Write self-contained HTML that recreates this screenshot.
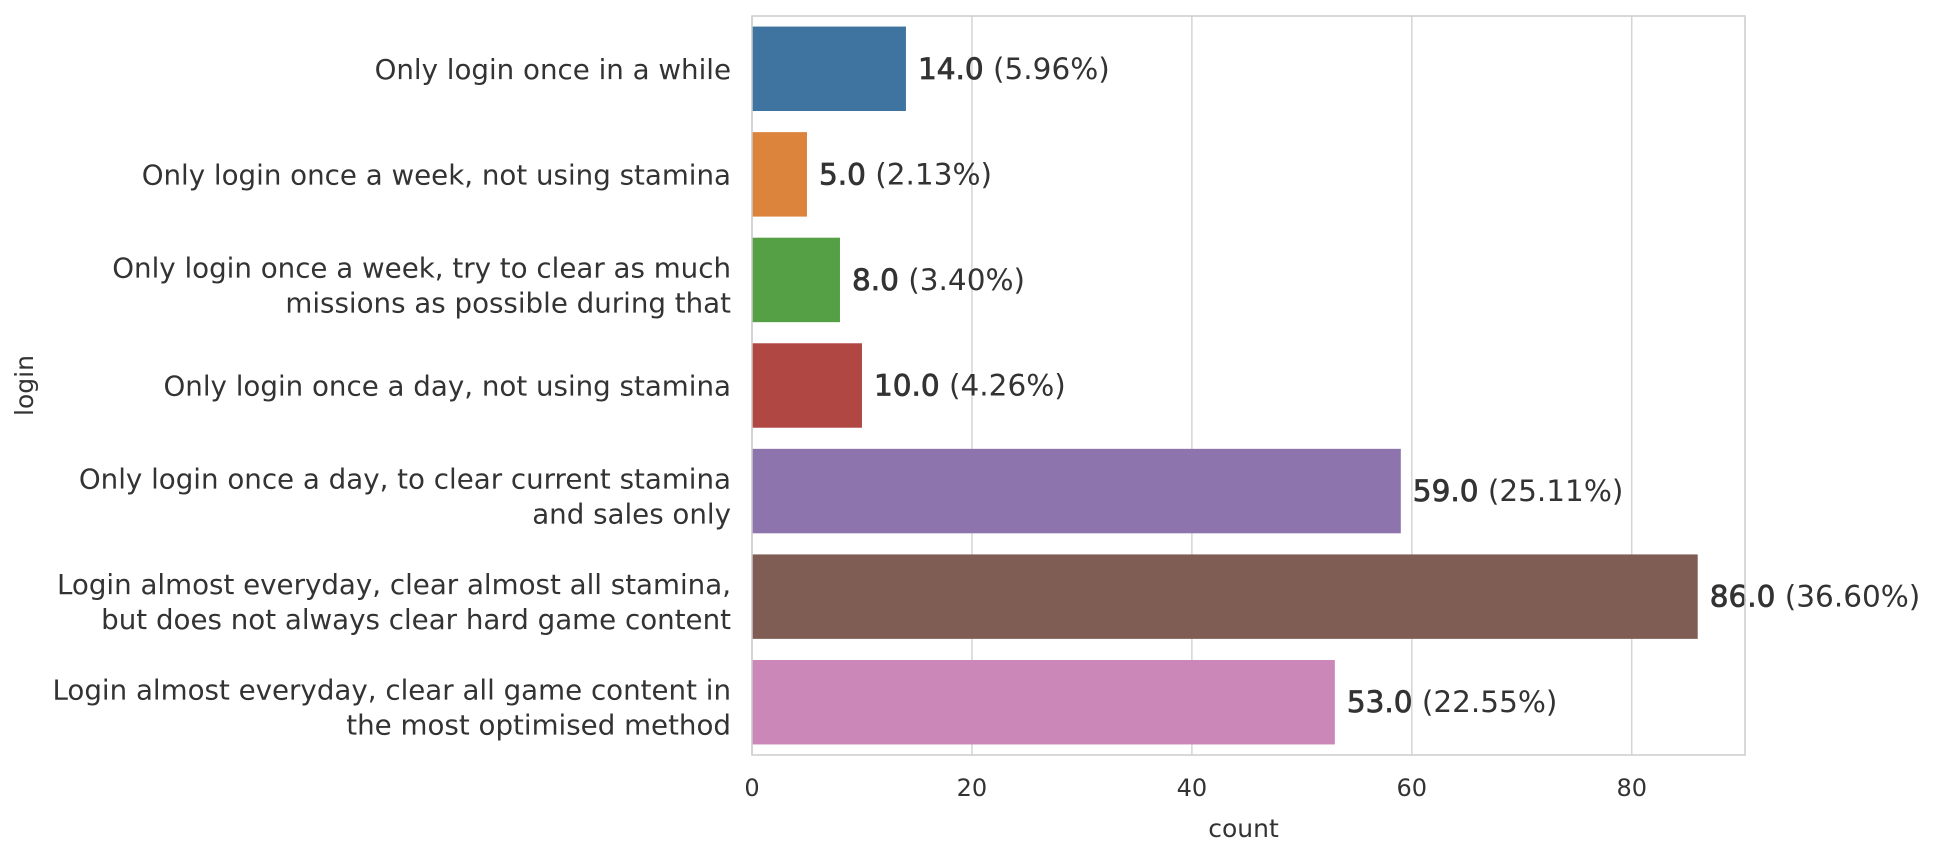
<!DOCTYPE html>
<html><head><meta charset="utf-8"><style>
html,body{margin:0;padding:0;background:#fff;}
svg{display:block;font-family:"DejaVu Sans","Liberation Sans",sans-serif;}
</style></head><body>
<svg id="chart" width="1942" height="860" viewBox="0 0 1942 860"></svg>
<script>
const categories = [
  ["Only login once in a while"],
  ["Only login once a week, not using stamina"],
  ["Only login once a week, try to clear as much","missions as possible during that"],
  ["Only login once a day, not using stamina"],
  ["Only login once a day, to clear current stamina","and sales only"],
  ["Login almost everyday, clear almost all stamina,","but does not always clear hard game content"],
  ["Login almost everyday, clear all game content in","the most optimised method"]
];
const counts = [14, 5, 8, 10, 59, 86, 53];
const percents = ["5.96%", "2.13%", "3.40%", "4.26%", "25.11%", "36.60%", "22.55%"];
const ticks = [0, 20, 40, 60, 80];
const colors = ["#3f74a1","#dc843c","#55a044","#b04743","#8d74ad","#7f5d54","#cb87b8"];

const NS = "http://www.w3.org/2000/svg";
const svg = document.getElementById('chart');
const L = 752, R = 1745, T = 16, B = 755;
const xmax = Math.max(...counts) * 1.05;
const x = v => L + v / xmax * (R - L);
const band = (B - T) / counts.length;
const y = i => T + band * i;
function mk(tag, attrs, parent) {
  const e = document.createElementNS(NS, tag);
  for (const k in attrs) e.setAttribute(k, attrs[k]);
  (parent || svg).appendChild(e);
  return e;
}
ticks.forEach(t => {
  const g = mk('line', {x1: x(t), x2: x(t), y1: T, y2: B, stroke: '#d5d5d5', 'stroke-width': 1.5});
  
  
  const tl = mk('text', {x: x(t), y: 796, 'text-anchor': 'middle', 'font-size': 24, fill: '#333'});
  tl.textContent = t;
  
  
});
counts.forEach((v, i) => {
  const bh = band * 0.8;
  const by = y(i) + band * 0.1;
  const r = mk('rect', {x: x(0), y: by, width: x(v) - x(0), height: bh, fill: colors[i]});
  
  
  const cy = y(i) + band / 2;
  const t = mk('text', {x: x(v) + 12, y: cy + 10, 'font-size': 29.5, fill: '#333'});
  
  
  const b = mk('tspan', {stroke: '#333', 'stroke-width': 0.8}, t);
  b.textContent = v.toFixed(1);
  const p = mk('tspan', {}, t);
  p.textContent = ' (' + percents[i] + ')';
  const lines = categories[i];
  const cl = mk('text', {x: 731, 'text-anchor': 'end', 'font-size': 27.7, fill: '#333'});
  
  
  const shift = lines.length > 1 ? 6 : 1;
  lines.forEach((ln, j) => {
    const ts = mk('tspan', {x: 731, y: cy + 9 + shift + (j - (lines.length - 1) / 2) * 35}, cl);
    ts.textContent = ln;
  });
});
const f = mk('rect', {x: L, y: T, width: R - L, height: B - T, fill: 'none', stroke: '#cccccc', 'stroke-width': 1.5});


const xt = mk('text', {x: (L + R) / 2 - 5, y: 837, 'text-anchor': 'middle', 'font-size': 25, fill: '#333'});
xt.textContent = 'count';


const yt = mk('text', {x: 0, y: 0, 'text-anchor': 'middle', 'font-size': 25, fill: '#333', transform: 'translate(33,' + ((T + B) / 2) + ') rotate(-90)'});
yt.textContent = 'login';


</script>
</body></html>
